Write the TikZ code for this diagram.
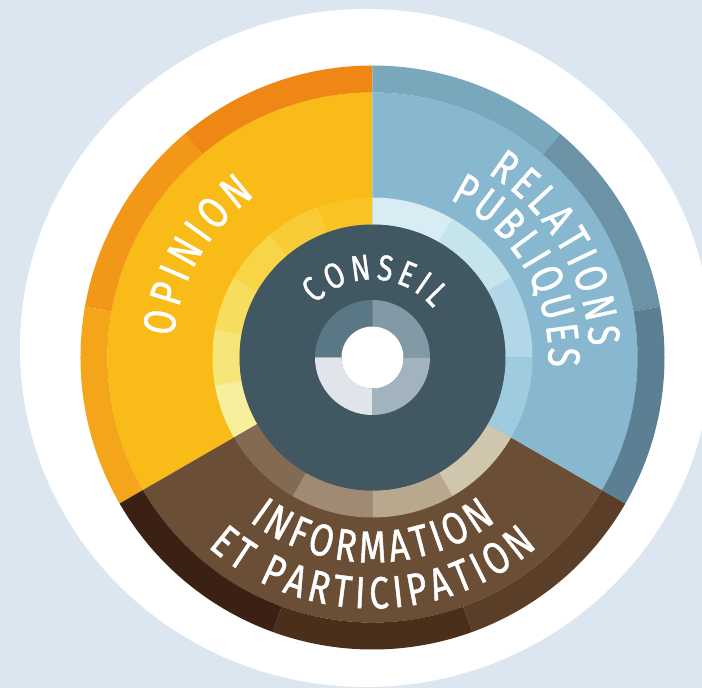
\documentclass[tikz,border=0pt]{standalone}
\usepackage{fontspec}
\newfontfamily\dinfont{Fira Sans}[FakeBold=1.0,FakeStretch=0.78]
\newcommand\sectorfont{\dinfont\fontsize{45}{49}\selectfont}
\newcommand\corefont{\dinfont\fontsize{36}{40}\selectfont}
\usetikzlibrary{decorations.text}

\definecolor{bgblue}{HTML}{DCE6F0}
\definecolor{opMain}{HTML}{F9BB17}
\definecolor{rpMain}{HTML}{87B8D0}
\definecolor{ipMain}{HTML}{6B4E36}
\definecolor{opBandA}{HTML}{EF8714}
\definecolor{opBandB}{HTML}{F29718}
\definecolor{opBandC}{HTML}{F5A51A}
\definecolor{rpBandA}{HTML}{79A7BC}
\definecolor{rpBandB}{HTML}{6C92A5}
\definecolor{rpBandC}{HTML}{5D7F93}
\definecolor{ipBandA}{HTML}{3A2113}
\definecolor{ipBandB}{HTML}{4A2F1B}
\definecolor{ipBandC}{HTML}{5B3E28}
\definecolor{opRingA}{HTML}{F8C323}
\definecolor{opRingB}{HTML}{F9CB37}
\definecolor{opRingC}{HTML}{F8D447}
\definecolor{opRingD}{HTML}{F7DD5E}
\definecolor{opRingE}{HTML}{F6E679}
\definecolor{opRingF}{HTML}{F6EF9C}
\definecolor{rpRingA}{HTML}{D8ECF3}
\definecolor{rpRingB}{HTML}{C6E4EC}
\definecolor{rpRingC}{HTML}{B2D7E6}
\definecolor{rpRingD}{HTML}{9FCBDE}
\definecolor{ipRingA}{HTML}{836A52}
\definecolor{ipRingB}{HTML}{A08A73}
\definecolor{ipRingC}{HTML}{B8A88E}
\definecolor{ipRingD}{HTML}{D0C6AE}
\definecolor{coreDark}{HTML}{415761}
\definecolor{hubA}{HTML}{5A7786}
\definecolor{hubB}{HTML}{8299A6}
\definecolor{hubC}{HTML}{A2B3BE}
\definecolor{hubD}{HTML}{DFE5EA}

\begin{document}
\begin{tikzpicture}[x=1pt,y=1pt,
		arctext/.style={decorate,decoration={text along path,text align=fit to path,
			text color=white,text={|\sectorfont|#1}}},
		coretext/.style={decorate,decoration={text along path,text align=fit to path,
			text color=white,text={|\corefont|#1}}}]

		\fill[bgblue] (-372.5,-330.5) rectangle (329.5,357.5);
		\useasboundingbox (-372.5,-330.5) rectangle (329.5,357.5);
		\fill[white] (-6.5,9.5) ellipse[x radius=346,y radius=339];

		\fill[opMain] (0,0) -- (90:265) arc[start angle=90,end angle=210,radius=265] -- cycle;
		\fill[ipMain] (0,0) -- (210:265) arc[start angle=210,end angle=330,radius=265] -- cycle;
		\fill[rpMain] (0,0) -- (-30:265) arc[start angle=-30,end angle=90,radius=265] -- cycle;

		\foreach \a/\b/\c in {90/130/opBandA,130/170/opBandB,170/210/opBandC,
				210/250/ipBandA,250/290/ipBandB,290/330/ipBandC,
				50/90/rpBandA,10/50/rpBandB,-30/10/rpBandC}
			\fill[\c] (\a:265) arc[start angle=\a,end angle=\b,radius=265]
				-- (\b:292) arc[start angle=\b,end angle=\a,radius=292] -- cycle;

		\foreach \a/\b/\c in {90/110/opRingA,110/130/opRingB,130/150/opRingC,
				150/170/opRingD,170/190/opRingE,190/210/opRingF,
				210/240/ipRingA,240/270/ipRingB,270/300/ipRingC,300/330/ipRingD,
				60/90/rpRingA,30/60/rpRingB,0/30/rpRingC,-30/0/rpRingD}
			\fill[\c] (\a:133) arc[start angle=\a,end angle=\b,radius=133]
				-- (\b:160) arc[start angle=\b,end angle=\a,radius=160] -- cycle;

		\fill[coreDark] (0,0) circle[radius=133];

		\foreach \a/\c in {90/hubA,0/hubB,270/hubC,180/hubD}
			\fill[\c] (\a:31) arc[start angle=\a,end angle=\a+90,radius=31]
				-- (\a+90:57.5) arc[start angle=\a+90,end angle=\a,radius=57.5] -- cycle;
		\fill[white] (0,0) circle[radius=31];

		\path[coretext=CONSEIL] (137:78) arc[start angle=137,end angle=39,radius=78];
		\path[arctext=OPINION] (174:200) arc[start angle=174,end angle=126,radius=200];
		\path[arctext=RELATIONS] (58:217) arc[start angle=58,end angle=3,radius=217];
		\path[arctext=PUBLIQUES] (64:176) arc[start angle=64,end angle=-3,radius=176];
		\path[arctext=INFORMATION] (233:205) arc[start angle=233,end angle=307,radius=205];
		\path[arctext=ET PARTICIPATION] (229:251) arc[start angle=229,end angle=311,radius=251];

\end{tikzpicture}
\end{document}
